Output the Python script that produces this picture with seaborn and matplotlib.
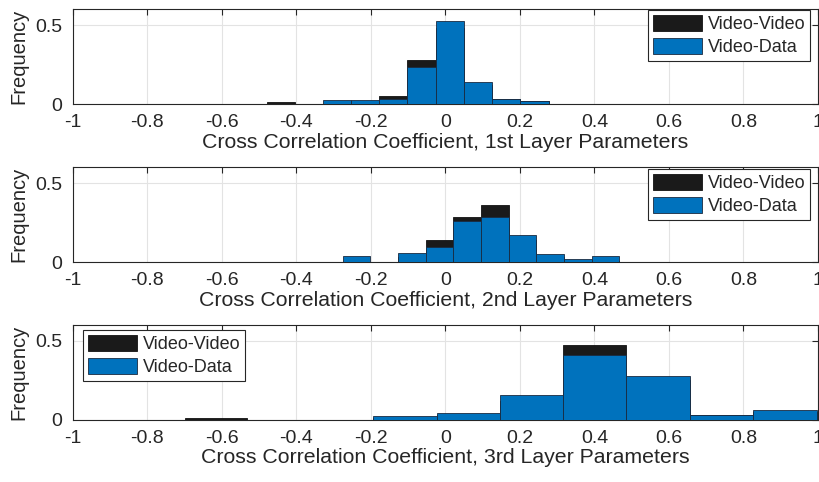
import matplotlib
matplotlib.use("Agg")
import matplotlib.pyplot as plt
from matplotlib.patches import Patch
import numpy as np
import seaborn as sns

# Bin edges and relative frequencies per layer
edges_1 = [-0.480, -0.404, -0.329, -0.253, -0.178, -0.102, -0.026, 0.050, 0.125, 0.201, 0.277]
video_video_1 = [0.010, 0.0, 0.0, 0.012, 0.052, 0.276, 0.480, 0.120, 0.030, 0.020]
video_data_1 = [0.0, 0.0, 0.025, 0.025, 0.033, 0.237, 0.523, 0.138, 0.031, 0.021]

edges_2 = [-0.276, -0.201, -0.127, -0.053, 0.021, 0.096, 0.170, 0.244, 0.319, 0.393, 0.467]
video_video_2 = [0.0, 0.0, 0.030, 0.137, 0.288, 0.359, 0.140, 0.030, 0.010, 0.006]
video_data_2 = [0.036, 0.0, 0.055, 0.093, 0.257, 0.286, 0.170, 0.050, 0.020, 0.035]

edges_3 = [-0.700, -0.533, -0.363, -0.193, -0.023, 0.147, 0.316, 0.486, 0.656, 0.826, 0.996]
video_video_3 = [0.008, 0.0, 0.0, 0.010, 0.030, 0.120, 0.474, 0.250, 0.030, 0.050]
video_data_3 = [0.0, 0.0, 0.0, 0.021, 0.042, 0.153, 0.410, 0.278, 0.031, 0.063]

xlabels = [
    "Cross Correlation Coefficient, 1st Layer Parameters",
    "Cross Correlation Coefficient, 2nd Layer Parameters",
    "Cross Correlation Coefficient, 3rd Layer Parameters",
]
series_names = ["Video-Video", "Video-Data"]

x_ticks = [-1, -0.8, -0.6, -0.4, -0.2, 0, 0.2, 0.4, 0.6, 0.8, 1]
x_ticklabels = ["-1", "-0.8", "-0.6", "-0.4", "-0.2", "0", "0.2", "0.4", "0.6", "0.8", "1"]
y_ticks = [0, 0.5]
y_ticklabels = ["0", "0.5"]

BLACK = "#1a1a1a"
BLUE = "#0072BD"
AXIS = "#262626"
GRID = "#e3e3e3"

sns.set_theme(style="white")
plt.rcParams["font.family"] = ["Liberation Sans", "DejaVu Sans"]

W, H = 819, 482
fig = plt.figure(figsize=(W / 100, H / 100), dpi=100)
positions = [
    [0.0888, 0.7842, 0.9100, 0.1965],
    [0.0888, 0.4564, 0.9100, 0.1965],
    [0.0888, 0.1293, 0.9100, 0.1970],
]
# legend anchor (figure pixels from top-left) and anchoring corner
legend_anchor = [((810, 10), "upper right"), ((810, 169), "upper right"), ((83, 330), "upper left")]

panels = [
    (edges_1, video_video_1, video_data_1),
    (edges_2, video_video_2, video_data_2),
    (edges_3, video_video_3, video_data_3),
]

for i, (edges, vv, vd) in enumerate(panels):
    ax = fig.add_axes(positions[i])
    e = np.asarray(edges)
    centers = (e[:-1] + e[1:]) / 2
    sns.histplot(x=centers, weights=vv, bins=edges, color=BLACK, edgecolor="#111111",
                 linewidth=0.6, alpha=1, ax=ax, zorder=2)
    sns.histplot(x=centers, weights=vd, bins=edges, color=BLUE, edgecolor="#1a2a40",
                 linewidth=0.6, alpha=1, ax=ax, zorder=3)
    ax.set_xlim(-1, 1)
    ax.set_ylim(0, 0.6)
    ax.set_xticks(x_ticks)
    ax.set_xticklabels(x_ticklabels)
    ax.set_yticks(y_ticks)
    ax.set_yticklabels(y_ticklabels)
    ax.grid(True, color=GRID, linewidth=0.8, zorder=0)
    ax.set_axisbelow(True)
    ax.tick_params(direction="in", top=True, right=True, length=4, width=0.8,
                   colors=AXIS, labelsize=14, pad=7.5)
    ax.tick_params(axis="both", labelcolor="#262626")
    for s in ax.spines.values():
        s.set_visible(True)
        s.set_color(AXIS)
        s.set_linewidth(0.8)
    ax.set_xlabel(xlabels[i], fontsize=15.3, color="#262626", labelpad=1)
    ax.set_ylabel("Frequency", fontsize=14.5, color="#262626", labelpad=5)
    handles = [
        Patch(facecolor=BLACK, edgecolor="#111111", linewidth=0.6, label=series_names[0]),
        Patch(facecolor=BLUE, edgecolor="#1a2a40", linewidth=0.6, label=series_names[1]),
    ]
    (px, py), loc = legend_anchor[i]
    leg = ax.legend(handles=handles, loc=loc, bbox_to_anchor=(px / W, 1 - py / H),
                    bbox_transform=fig.transFigure, fontsize=13, frameon=True,
                    fancybox=False, framealpha=1, edgecolor=AXIS, handlelength=2.75,
                    handleheight=1.05, handletextpad=0.3, labelspacing=0.25,
                    borderpad=0.25, borderaxespad=0)
    leg.get_frame().set_linewidth(0.8)

fig.savefig("out.png", dpi=100)
